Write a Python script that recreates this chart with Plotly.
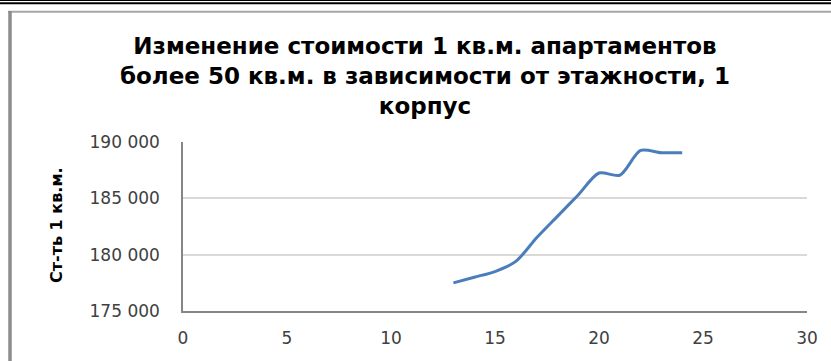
import plotly.graph_objects as go

# Floor number vs. price per square metre (building 1, apartments over 50 sq.m.)
floors = [13, 14, 15, 16, 17, 18, 19, 20, 21, 22, 23, 24]
price_per_sqm = [177500, 178000, 178500, 179400, 181500, 183400,
                 185300, 187250, 187050, 189250, 189050, 189050]

x_ticks = [0, 5, 10, 15, 20, 25, 30]
y_ticks = [175000, 180000, 185000, 190000]
y_tick_text = ["175 000", "180 000", "185 000", "190 000"]

title_lines = [
    "Изменение стоимости 1 кв.м. апартаментов",
    "более 50 кв.м. в зависимости от этажности, 1",
    "корпус",
]
y_title = "Ст-ть 1 кв.м."

W, H = 831, 361
ML, MR, MT, MB = 183, 24, 142, 50
PW, PH = W - ML - MR, H - MT - MB


def px(x):
    return (x - ML) / PW


def py(y):
    return (H - MB - y) / PH


FONT = "DejaVu Sans"

fig = go.Figure()
fig.add_trace(go.Scatter(
    x=floors, y=price_per_sqm, mode="lines",
    line=dict(color="#4a7ebb", width=3, shape="spline", smoothing=0.8),
    hoverinfo="skip", showlegend=False,
))

shapes = [
    # double rule along the top edge
    dict(type="line", xref="paper", yref="paper", x0=px(0), x1=px(W), y0=py(0.5), y1=py(0.5),
         line=dict(color="#000000", width=1)),
    dict(type="line", xref="paper", yref="paper", x0=px(0), x1=px(W), y0=py(3.3), y1=py(3.3),
         line=dict(color="#000000", width=2)),
    # chart frame (top and left)
    dict(type="line", xref="paper", yref="paper", x0=px(8), x1=px(W), y0=py(11.8), y1=py(11.8),
         line=dict(color="#a6a6a6", width=2)),
    dict(type="line", xref="paper", yref="paper", x0=px(10), x1=px(10), y0=py(11), y1=py(H),
         line=dict(color="#8c8c8c", width=3.5)),
]

title_html = "<br>".join("<b>" + line + "</b>" for line in title_lines)

annotations = [
    dict(text=title_html, xref="paper", yref="paper",
         x=px(425), y=py(76), xanchor="center", yanchor="middle", showarrow=False,
         font=dict(family=FONT, size=23, color="#000000")),
    dict(text="<b>" + y_title + "</b>", xref="paper", yref="paper",
         x=px(56), y=py(225), xanchor="center", yanchor="middle", showarrow=False,
         textangle=-90, font=dict(family=FONT, size=16, color="#000000")),
]

fig.update_layout(
    width=W, height=H,
    margin=dict(l=ML, r=MR, t=MT, b=MB, pad=0),
    paper_bgcolor="#ffffff", plot_bgcolor="#ffffff",
    shapes=shapes, annotations=annotations,
    font=dict(family=FONT, color="#404040"),
)
fig.update_xaxes(
    range=[0, 30], tickvals=x_ticks, ticktext=[str(v) for v in x_ticks],
    showgrid=False, zeroline=False, showline=True, linecolor="#868686", linewidth=1.5,
    ticks="", tickfont=dict(family=FONT, size=17, color="#404040"),
    ticklabelstandoff=11,
)
fig.update_yaxes(
    range=[175000, 190000], tickvals=y_ticks, ticktext=y_tick_text,
    showgrid=True, gridcolor="#d9d9d9", gridwidth=2,
    zeroline=False, showline=True, linecolor="#868686", linewidth=1.5,
    ticks="", tickfont=dict(family=FONT, size=17, color="#404040"),
    ticklabelstandoff=18,
)

fig.write_html("out.html")
